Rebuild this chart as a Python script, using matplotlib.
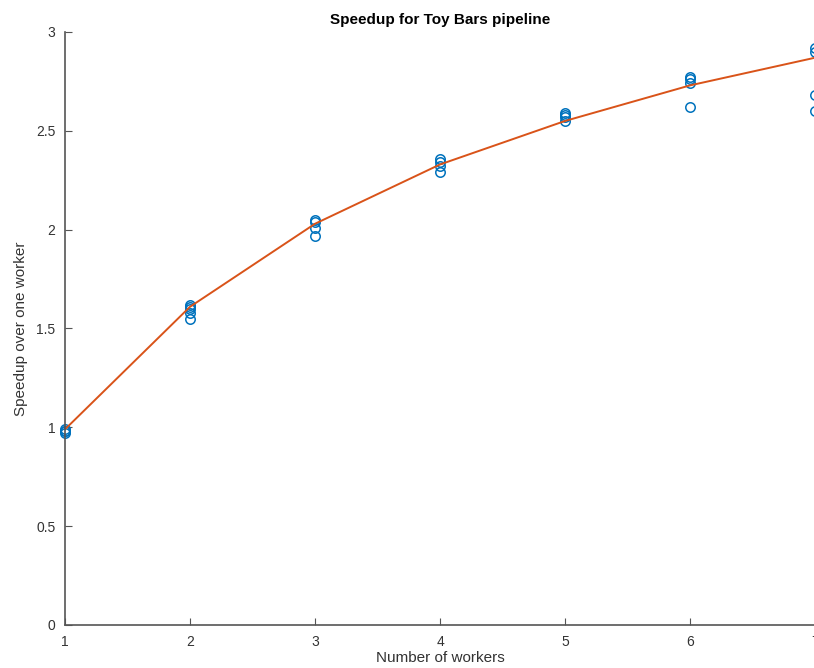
import matplotlib.pyplot as plt

# Measured speedups (several runs per worker count)
workers = [1, 1, 1, 1,
           2, 2, 2, 2, 2,
           3, 3, 3, 3,
           4, 4, 4, 4,
           5, 5, 5, 5,
           6, 6, 6, 6,
           7, 7, 7, 7]
speedup = [0.97, 0.98, 0.99, 0.98,
           1.62, 1.60, 1.58, 1.55, 1.61,
           2.05, 2.04, 2.01, 1.97,
           2.36, 2.34, 2.32, 2.29,
           2.59, 2.58, 2.57, 2.55,
           2.77, 2.76, 2.74, 2.62,
           2.92, 2.90, 2.68, 2.60]

# Fitted curve
fit_x = [1, 2, 3, 4, 5, 6, 7]
fit_y = [0.99, 1.61, 2.03, 2.33, 2.55, 2.73, 2.87]

plt.rcParams['font.family'] = ['Liberation Sans Narrow', 'Liberation Sans', 'DejaVu Sans']

fig = plt.figure(figsize=(8.14, 6.68), dpi=100)
ax = fig.add_axes([0.0799, 0.0644, 0.9215, 0.8877])

ax.plot(workers, speedup, 'o', mfc='none', mec='#0072BD', mew=1.1, ms=6.8, clip_on=False)
ax.plot(fit_x, fit_y, color='#D95319', lw=1.4)

ax.set_xlim(1, 7)
ax.set_ylim(0, 3)
ax.set_xticks([1, 2, 3, 4, 5, 6, 7])
ax.set_yticks([0, 0.5, 1, 1.5, 2, 2.5, 3])
ax.set_yticklabels(['0', '0.5', '1', '1.5', '2', '2.5', '3'])

for s in ['top', 'right']:
    ax.spines[s].set_visible(False)
for s in ['left', 'bottom']:
    ax.spines[s].set_color('#555555')
    ax.spines[s].set_linewidth(1.2)
ax.tick_params(direction='in', length=5, color='#555555', labelsize=10,
               labelcolor='#333333')
ax.tick_params(axis='y', pad=7)
ax.tick_params(axis='x', pad=7)

ax.set_xlabel('Number of workers', fontsize=11, color='#333333', labelpad=2)
ax.set_ylabel('Speedup over one worker', fontsize=11, color='#333333', labelpad=6)
ax.set_title('Speedup for Toy Bars pipeline', fontsize=11, fontweight='bold', pad=6)

fig.savefig('out.png', dpi=100)
